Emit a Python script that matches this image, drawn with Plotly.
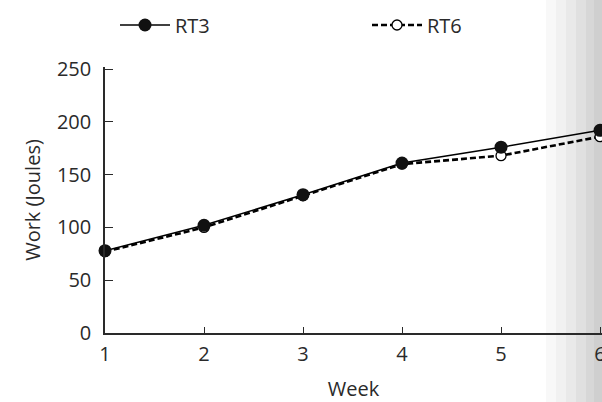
import plotly.graph_objects as go

weeks = [1, 2, 3, 4, 5, 6]
rt3 = [78, 102, 131, 161, 176, 192]
rt6 = [77, 100, 130, 160, 168, 186]
x_ticks = [1, 2, 3, 4, 5, 6]
y_ticks = [0, 50, 100, 150, 200, 250]

FONT = "Open Sans"
INK = "#2a2a2a"

FW, FH = 602, 402
L, W_PLOT, T, H_PLOT = 105, 497, 67, 266

fig = go.Figure()

# scanned-page shading at right edge (purely decorative)
shades = [(546, "#f8f8f8"), (556, "#f1f1f1"), (566, "#e9e9e9"), (576, "#e0e0e0"), (586, "#d7d7d7"), (594, "#cfcfcf")]
for px, col in shades:
    fig.add_shape(type="rect", xref="paper", yref="paper",
                  x0=(px - L) / W_PLOT, x1=(FW + 10 - L) / W_PLOT,
                  y0=-(FH - T - H_PLOT) / H_PLOT, y1=1 + T / H_PLOT,
                  fillcolor=col, line_width=0, layer="below")

fig.add_trace(go.Scatter(
    x=weeks, y=rt6, name="RT6", mode="lines+markers", legend="legend2",
    line=dict(color="black", width=2.6, dash="6px,3px"),
    marker=dict(symbol="circle", size=10, color="white", line=dict(color="black", width=1.3)),
    cliponaxis=False,
))
fig.add_trace(go.Scatter(
    x=weeks, y=rt3, name="RT3", mode="lines+markers", legend="legend",
    line=dict(color="black", width=1.5),
    marker=dict(symbol="circle", size=13, color="#111", line=dict(color="black", width=0)),
    cliponaxis=False,
))

leg_common = dict(orientation="h", xref="container", yref="container", xanchor="left",
                  yanchor="middle", y=1 - 25 / FH, font=dict(size=20, color=INK),
                  bgcolor="rgba(0,0,0,0)", itemwidth=50)

fig.update_layout(
    width=FW, height=FH,
    margin=dict(l=L, r=FW - L - W_PLOT, t=T, b=FH - T - H_PLOT, pad=0, autoexpand=False),
    paper_bgcolor="white", plot_bgcolor="rgba(0,0,0,0)",
    font=dict(family=FONT, color=INK, size=20),
    showlegend=True,
    legend=dict(leg_common, x=115 / FW),
    legend2=dict(leg_common, x=367 / FW),
    xaxis=dict(range=[1, 6.02], tickvals=x_ticks, ticktext=[str(v) for v in x_ticks],
               automargin=False, ticklabeloverflow="allow",
               showgrid=False, zeroline=False, showline=True, linecolor=INK, linewidth=1.5,
               ticks="inside", ticklen=6, tickcolor=INK, tickwidth=1.3,
               tickfont=dict(size=20, color=INK), ticklabelstandoff=2,
               title=dict(text="Week", font=dict(size=20, color=INK), standoff=16)),
    yaxis=dict(range=[0, 252], tickvals=y_ticks, automargin=False,
               showgrid=False, zeroline=False, showline=True, linecolor=INK, linewidth=1.5,
               ticks="inside", ticklen=8, tickcolor=INK, tickwidth=1.3,
               tickfont=dict(size=20, color=INK), ticklabelstandoff=8,
               title=dict(text="Work (Joules)", font=dict(size=20, color=INK), standoff=11)),
)

fig.write_html("out.html", config={"displayModeBar": False},
               post_script="document.body.style.margin='0';document.body.style.overflow='hidden';")
